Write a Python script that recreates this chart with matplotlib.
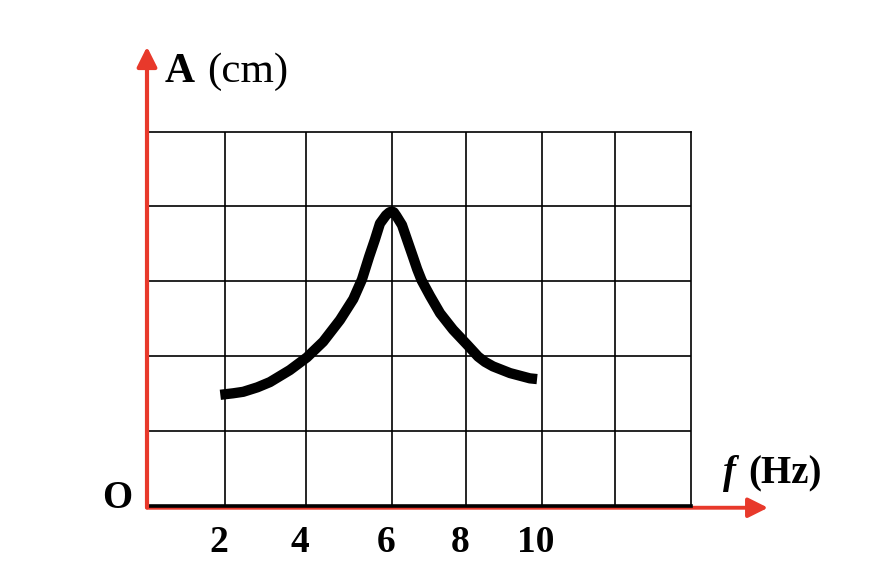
import numpy as np
import matplotlib
matplotlib.use("Agg")
import matplotlib.pyplot as plt
from matplotlib.transforms import ScaledTranslation

# data ----------------------------------------------------------
freq = [1.88, 2.2, 2.45, 2.8, 3.11, 3.60, 4.02, 4.40, 4.79, 5.10, 5.30,
        5.47, 5.60, 5.72, 5.86, 5.94, 6.0, 6.05, 6.12, 6.27, 6.43, 6.57,
        6.68, 6.80, 7.03, 7.30, 7.65, 8.03, 8.32, 8.50, 8.71, 9.16, 9.68,
        9.87]
amp = [1.48, 1.50, 1.52, 1.58, 1.65, 1.81, 1.98, 2.19, 2.48, 2.76, 3.02,
       3.33, 3.55, 3.77, 3.88, 3.92, 3.93, 3.92, 3.87, 3.75, 3.52, 3.32,
       3.16, 3.01, 2.80, 2.57, 2.35, 2.15, 1.99, 1.92, 1.86, 1.77, 1.70,
       1.69]
tick_f = [2, 4, 6, 8, 10]
tick_lbl = ["2", "4", "6", "8", "10"]

# grid columns in the drawing are not evenly spaced
grid_f = [0, 2, 4, 6, 8, 10, 12, 14]
grid_px = [0, 78, 159, 245, 319, 395, 468, 544]

red = "#e8392b"
serif = ["Liberation Serif", "DejaVu Serif"]


def fwd(v):
    return np.interp(v, grid_f, grid_px)


def inv(v):
    return np.interp(v, grid_px, grid_f)


def main():
    fig = plt.figure(figsize=(8.72, 5.82), dpi=100)
    W, H = 872, 582
    ax = fig.add_axes([147 / W, (H - 505.5) / H, 544 / W, 374 / H])
    ax.set_xscale("function", functions=(fwd, inv))
    ax.set_xlim(0, 14)
    ax.set_ylim(0, 5)

    # grid ---------------------------------------------------------
    for g in grid_f[1:-1]:
        ax.axvline(g, color="black", lw=1.2, zorder=1)
    for r in range(1, 5):
        ax.axhline(r, color="black", lw=1.2, zorder=1)
    ax.set_xticks([])
    ax.set_yticks([])
    for s in ["top", "right"]:
        ax.spines[s].set_linewidth(1.2)
    ax.spines["left"].set_visible(False)
    ax.spines["bottom"].set_linewidth(2.6)
    ax.spines["bottom"].set_zorder(4)

    # curve --------------------------------------------------------
    ax.plot(freq, amp, color="black", lw=7.4, solid_capstyle="butt",
            solid_joinstyle="round", zorder=3)

    # red axes arrows ---------------------------------------------
    astyle = "-|>,head_length=0.6,head_width=0.3"
    ax.annotate("", xy=(0, (505.5 - 46.7) / 374), xytext=(0, -0.005),
                xycoords="axes fraction", annotation_clip=False,
                arrowprops=dict(arrowstyle=astyle, color=red, lw=3.0,
                                mutation_scale=20, shrinkA=0, shrinkB=0),
                zorder=5)
    ax.annotate("", xy=((768 - 147) / 544, -0.006), xytext=(0, -0.006),
                xycoords="axes fraction", annotation_clip=False,
                arrowprops=dict(arrowstyle=astyle, color=red, lw=2.8,
                                mutation_scale=20, shrinkA=0, shrinkB=0),
                zorder=2)

    # labels -------------------------------------------------------
    off = ScaledTranslation(-6 / 100, 0, fig.dpi_scale_trans)
    for f, t in zip(tick_f, tick_lbl):
        ax.text(f, (505.5 - 552) / 374, t, transform=ax.get_xaxis_transform() + off,
                ha="center", va="baseline", fontsize=27, fontweight="bold",
                family=serif)

    fig.text(165 / W, 1 - 82 / H, "A", fontsize=30, fontweight="bold",
             family=serif, va="baseline", ha="left")
    fig.text(207 / W, 1 - 82 / H, "(cm)", fontsize=31, family=serif,
             va="baseline", ha="left")
    fig.text(723 / W, 1 - 483 / H, "f", fontsize=28, fontweight="bold",
             fontstyle="italic", family=serif, va="baseline", ha="left")
    fig.text(748 / W, 1 - 483 / H, "(Hz)", fontsize=28, fontweight="bold",
             family=serif, va="baseline", ha="left")
    fig.text(117 / W, 1 - 508 / H, "O", fontsize=28, fontweight="bold",
             family=serif, va="baseline", ha="center")

    fig.savefig("out.png", dpi=100)


if __name__ == "__main__":
    main()
